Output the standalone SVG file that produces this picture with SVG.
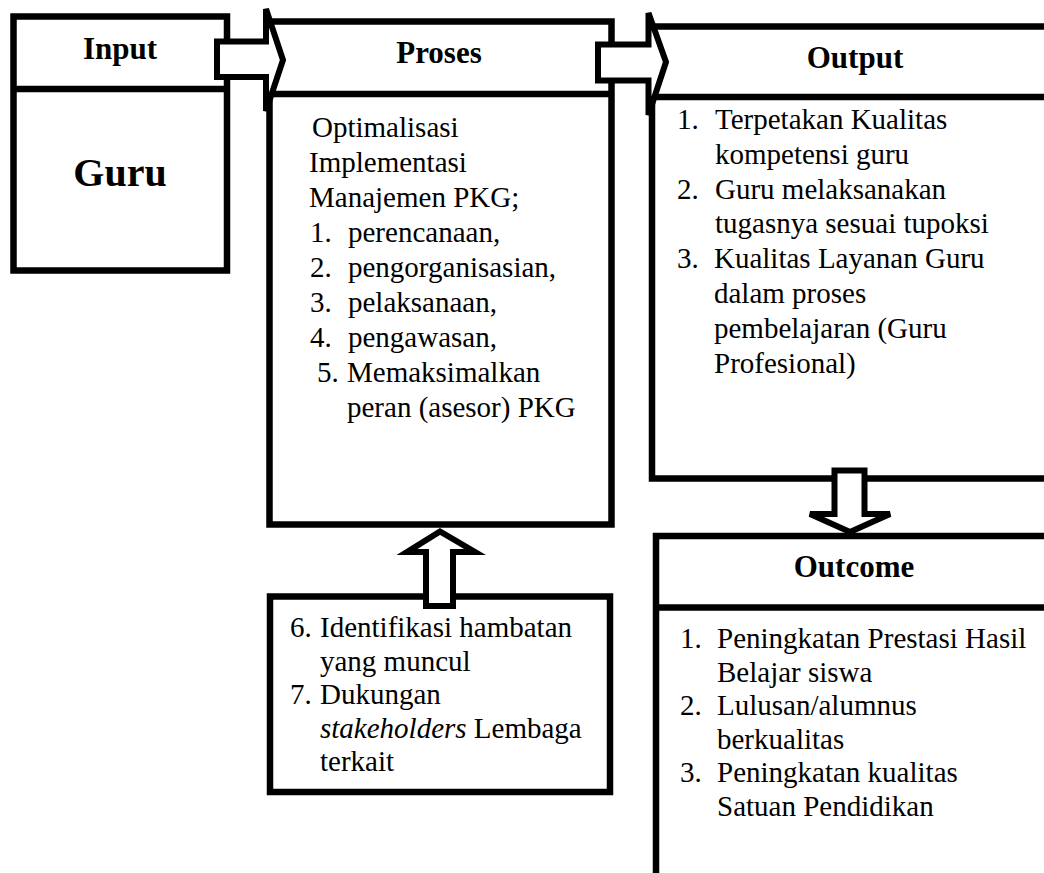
<svg xmlns="http://www.w3.org/2000/svg" width="1044" height="873" viewBox="0 0 1044 873">
<style>
.box{fill:#fff;stroke:#000;stroke-width:6.5}
.ln{fill:none;stroke:#000;stroke-width:6.5}
.arr{fill:#fff;stroke:#000;stroke-width:6;stroke-linejoin:miter}
.t{font-family:"Liberation Serif","Times New Roman",serif;font-size:29px;fill:#000}
.h{font-family:"Liberation Serif","Times New Roman",serif;font-size:31px;font-weight:bold;fill:#000;text-anchor:middle}
</style>
<rect width="1044" height="873" fill="#fff"/>
<g id="input">
<rect class="box" x="13.5" y="16.5" width="213.5" height="254"/>
<line class="ln" x1="13.5" y1="89" x2="227" y2="89"/>
<text class="h" x="120" y="59">Input</text>
<text class="h" x="120" y="186" style="font-size:40px">Guru</text>
</g>
<g id="proses">
<rect class="box" x="269.5" y="21.5" width="342" height="503"/>
<line class="ln" x1="269.5" y1="94" x2="611.5" y2="94"/>
<text class="h" x="439" y="63">Proses</text>
<text class="t"><tspan x="312" y="137">Optimalisasi</tspan><tspan x="309" y="172">Implementasi</tspan><tspan x="309" y="207">Manajemen PKG;</tspan><tspan x="310" y="242">1.</tspan><tspan x="348" y="242">perencanaan,</tspan><tspan x="310" y="277">2.</tspan><tspan x="348" y="277">pengorganisasian,</tspan><tspan x="310" y="312">3.</tspan><tspan x="348" y="312">pelaksanaan,</tspan><tspan x="310" y="347">4.</tspan><tspan x="348" y="347">pengawasan,</tspan><tspan x="317" y="382">5.</tspan><tspan x="347" y="382">Memaksimalkan</tspan><tspan x="347" y="417">peran (asesor) PKG</tspan></text>
</g>
<g id="output">
<rect x="652" y="26.5" width="400" height="452" fill="#fff"/>
<path class="ln" d="M1050,26.5 H652 V478.5 H1050 M652,97 H1050"/>
<text class="h" x="855" y="68">Output</text>
<text class="t"><tspan x="677" y="129">1.</tspan><tspan x="715" y="129">Terpetakan Kualitas</tspan><tspan x="715" y="163.8">kompetensi guru</tspan><tspan x="677" y="198.6">2.</tspan><tspan x="715" y="198.6">Guru melaksanakan</tspan><tspan x="715" y="233.4">tugasnya sesuai tupoksi</tspan><tspan x="677" y="268.2">3.</tspan><tspan x="714" y="268.2">Kualitas Layanan Guru</tspan><tspan x="714" y="303">dalam proses</tspan><tspan x="714" y="337.8">pembelajaran  (Guru</tspan><tspan x="714" y="372.6">Profesional)</tspan></text>
</g>
<g id="outcome">
<path class="ln" d="M1050,536 H656 V880 M656,607.5 H1050"/>
<text class="h" x="854" y="577">Outcome</text>
<text class="t"><tspan x="680" y="648">1.</tspan><tspan x="717" y="648">Peningkatan Prestasi Hasil</tspan><tspan x="717" y="681.5">Belajar siswa</tspan><tspan x="680" y="715">2.</tspan><tspan x="717" y="715">Lulusan/alumnus</tspan><tspan x="717" y="748.5">berkualitas</tspan><tspan x="680" y="782">3.</tspan><tspan x="717" y="782">Peningkatan kualitas</tspan><tspan x="717" y="815.5">Satuan Pendidikan</tspan></text>
</g>
<g id="faktor">
<rect class="box" x="270" y="596.5" width="340" height="195.5"/>
<text class="t"><tspan x="290" y="637">6.</tspan><tspan x="320" y="637">Identifikasi hambatan</tspan><tspan x="320" y="670.5">yang muncul</tspan><tspan x="290" y="704">7.</tspan><tspan x="320" y="704">Dukungan</tspan><tspan x="320" y="737.5" font-style="italic">stakeholders</tspan><tspan> Lembaga</tspan><tspan x="320" y="771">terkait</tspan></text>
</g>
<g id="connectors">
<path class="arr" d="M217,41.5 H266 V9 L283,60 L266,111 V77 H217 Z"/>
<path class="arr" d="M598,44.5 H648.5 V13 L666,62 L648.5,115 V80.5 H598 Z"/>
<path class="arr" d="M834.5,470.5 V514 H810 L850,532 L890,514 H864.5 V470.5 Z"/>
<path class="arr" d="M426,606 V552 H407 L440,531.5 L475,552 H453 V606 Z"/>
</g>
</svg>
